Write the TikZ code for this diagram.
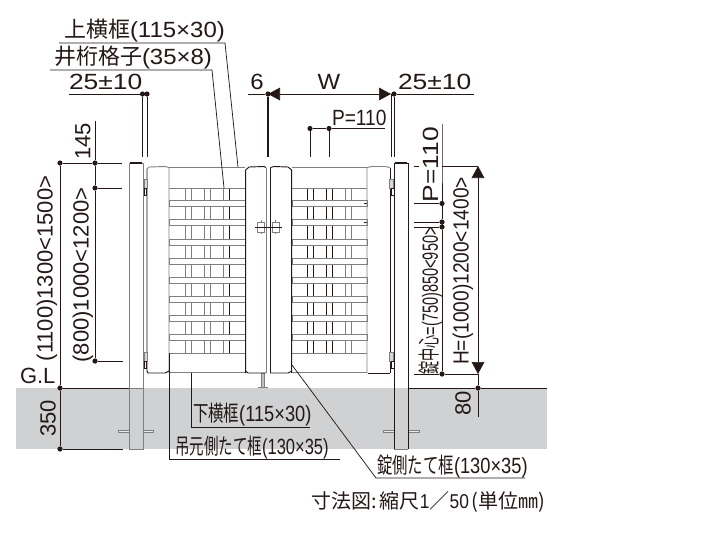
\documentclass[tikz,border=0pt]{standalone}
\usepackage{fontspec}
\setmainfont{Liberation Sans}
\usetikzlibrary{arrows.meta}
\newfontfamily\gapLat[FakeStretch=1.2]{Liberation Sans}
\newfontfamily\wideLat[FakeStretch=1.09]{Liberation Sans}
\newfontfamily\slimLat[FakeStretch=0.87]{Liberation Sans}
\newfontfamily\railLat[FakeStretch=0.83]{Liberation Sans}
\newfontfamily\thinLat[FakeStretch=0.75]{Liberation Sans}
\newfontfamily\tightLat[FakeStretch=0.66]{Liberation Sans}
\newfontfamily\wideJp{Noto Sans CJK JP}
\newfontfamily\railJp[FakeStretch=0.7]{Noto Sans CJK JP}
\newfontfamily\thinJp[FakeStretch=0.66]{Noto Sans CJK JP}
\newfontfamily\tightJp[FakeStretch=0.6]{Noto Sans CJK JP}
\definecolor{ink}{HTML}{231815}
\definecolor{soil}{HTML}{D0D1D3}
\definecolor{frame}{HTML}{7F7F7F}
\tikzset{
  lbl/.style={inner sep=0pt, outer sep=0pt, text=ink, font=\fontsize{16.5}{18}\selectfont},
  dot/.style={circle, fill=ink, inner sep=0pt, minimum size=3.9pt},
  dim/.style={ink, line width=0.55pt},
  blk/.style={ink, line width=0.7pt},
  gry/.style={frame, line width=0.7pt},
  barbox/.style={frame, fill=white, line width=0.7pt},
  tri/.style={{Triangle[length=9pt, width=9.5pt]}-{Triangle[length=9pt, width=9.5pt]}}
}
\begin{document}
\begin{tikzpicture}[x=0.75pt, y=-0.75pt, line join=miter]
    \useasboundingbox (0, 0) rectangle (720, 540);

    % Ground
    \fill[soil] (16, 388) rectangle (547, 449);
    \draw[gry, fill=soil!50] (118, 430) rectangle (153, 432.5);
    \draw[gry, fill=soil!50] (383, 430) rectangle (419, 432.5);

    % Posts
    \draw[gry, fill=white] (129, 163) rectangle (143, 388);
    \draw[gry, fill=soil] (129, 388) rectangle (143, 449);
    \draw[blk, fill=white] (394, 163) rectangle (408, 388);
    \fill[soil] (394, 388) rectangle (408, 449);
    \draw[blk] (394, 388) -- (394, 449);
    \draw[blk] (408, 388) -- (408, 449);
    \draw[gry] (394, 449) -- (408, 449);
    \draw[ink, line width=1.3pt] (130, 163) -- (142, 163);
    \draw[ink, line width=1.3pt] (395, 163) -- (407, 163);

    % Stop
    \draw[gry, fill=frame!50] (261.5, 373) rectangle (264, 387);
    \draw[gry] (258, 387.5) -- (268, 387.5);

    % Lattice verticals
    \draw[gry] (185, 188) -- (185, 353);
    \draw[gry] (191, 188) -- (191, 353);
    \draw[gry] (204, 188) -- (204, 353);
    \draw[gry] (210, 188) -- (210, 353);
    \draw[gry] (223, 188) -- (223, 353);
    \draw[blk] (229, 188) -- (229, 353);
    \draw[blk] (307.5, 188) -- (307.5, 353);
    \draw[blk] (313, 188) -- (313, 353);
    \draw[blk] (326.5, 188) -- (326.5, 353);
    \draw[blk] (332.5, 188) -- (332.5, 353);
    \draw[gry] (345.5, 188) -- (345.5, 353);
    \draw[gry] (351.5, 188) -- (351.5, 353);

    % Lattice bars
    \draw[gry] (169, 188) -- (245, 188);
    \draw[gry] (292, 188) -- (367, 188);
    \draw[gry] (169, 353) -- (245, 353);
    \draw[gry] (292, 353) -- (367, 353);
    \draw[barbox] (169, 200.5) rectangle (245, 206.5);
    \draw[barbox] (169, 219.5) rectangle (245, 225.5);
    \draw[barbox] (169, 239) rectangle (245, 245);
    \draw[barbox] (169, 258) rectangle (245, 264);
    \draw[barbox] (169, 277) rectangle (245, 283);
    \draw[barbox] (169, 296) rectangle (245, 302);
    \draw[barbox] (169, 315) rectangle (245, 321);
    \draw[barbox] (169, 334) rectangle (245, 340);
    \draw[barbox] (292, 200.5) rectangle (367, 206.5);
    \draw[barbox] (292, 219.5) rectangle (367, 225.5);
    \draw[barbox] (292, 239) rectangle (367, 245);
    \draw[barbox] (292, 258) rectangle (367, 264);
    \draw[barbox] (292, 277) rectangle (367, 283);
    \draw[barbox] (292, 296) rectangle (367, 302);
    \draw[barbox] (292, 315) rectangle (367, 321);
    \draw[barbox] (292, 334) rectangle (367, 340);
    \draw[blk] (364, 203) -- (367, 203);
    \draw[blk] (364, 222) -- (367, 222);

    % Gate frame
    \draw[gry] (169, 167.5) -- (245, 167.5);
    \draw[gry] (292, 167.5) -- (367, 167.5);
    \draw[gry] (169, 372.5) -- (245, 372.5);
    \draw[gry] (292, 372.5) -- (367, 372.5);
    \draw[gry] (147, 169) -- (149, 167) -- (165, 166.5) -- (169, 167.5) -- (169, 373);
    \draw[gry] (367, 373) -- (367, 167.5) -- (372, 166.5) -- (385, 166.5) -- (390, 167.5);
    \draw[blk] (147, 169) -- (147, 371) -- (148, 373) -- (165, 373) -- (169, 371);
    \draw[blk] (368, 373) -- (390, 373);
    \draw[blk] (390.5, 167.5) -- (390.5, 373);

    % Latch stiles
    \draw[blk] (245.7, 373) -- (245.7, 170) -- (249, 167) -- (264, 166.5) -- (266, 167.5);
    \draw[blk] (245.7, 371) -- (248, 373) -- (266, 373);
    \draw[gry] (266, 167.5) -- (266, 373);
    \draw[blk] (270.5, 167.5) -- (270.5, 373) -- (288, 373) -- (291.7, 371);
    \draw[blk] (270.5, 167.5) -- (274, 166.5) -- (288, 167) -- (291.7, 170) -- (291.7, 373);

    % Latches
    \draw[gry] (257.7, 222) rectangle (264.3, 232);
    \draw[gry] (272, 222) rectangle (279, 232);
    \draw[gry] (261, 220) -- (261, 222);
    \draw[gry] (261, 232) -- (261, 234);
    \draw[gry] (275.5, 220) -- (275.5, 222);
    \draw[gry] (275.5, 232) -- (275.5, 234);
    \draw[blk] (255, 227) -- (282, 227);

    % Hinges
    \draw[gry, fill=frame!30] (144, 179) rectangle (147, 188);
    \draw[blk] (144, 188) rectangle (146, 195);
    \draw[gry, fill=frame!30] (144, 352) rectangle (147, 361);
    \draw[blk] (144, 361) rectangle (146, 368);
    \draw[gry, fill=frame!30] (389.5, 179) rectangle (393, 188);
    \draw[blk] (391, 188) rectangle (394, 195);
    \draw[gry, fill=frame!30] (389.5, 352) rectangle (393, 361);
    \draw[blk] (391, 361) rectangle (394, 368);

    % Leaders, top
    \node[lbl, anchor=west] (topRail) at (64, 31) {\wideJp 上横框\wideLat(115×30)};
    \node[lbl, anchor=west] (lattice) at (54, 58) {\wideJp 井桁格子\wideLat(35×8)};
    \coordinate (topRailA) at (59, 43);
    \coordinate (topRailB) at (225, 43);
    \coordinate (topRailC) at (238, 167);
    \draw[dim] (topRailA) -- (topRailB) -- (topRailC);
    \coordinate (latticeA) at (50, 70);
    \coordinate (latticeB) at (212, 70);
    \coordinate (latticeC) at (224, 188);
    \draw[dim] (latticeA) -- (latticeB) -- (latticeC);

    % Leaders, bottom
    \node[lbl, anchor=west] (botRail) at (193, 415) {\railJp 下横框\railLat(115×30)};
    \node[lbl, anchor=west] (hingeSt) at (175, 448) {\thinJp 吊元側たて框\thinLat(130×35)};
    \node[lbl, anchor=west] (latchSt) at (377, 467) {\railJp 錠側たて框\railLat(130×35)};
    \coordinate (botRailA) at (191, 373);
    \coordinate (botRailB) at (191, 427);
    \coordinate (botRailC) at (310, 427);
    \draw[dim] (botRailA) -- (botRailB) -- (botRailC);
    \coordinate (hingeStA) at (169, 353);
    \coordinate (hingeStB) at (169, 459);
    \coordinate (hingeStC) at (340, 459);
    \draw[dim] (hingeStA) -- (hingeStB) -- (hingeStC);
    \coordinate (latchStA) at (292, 365);
    \coordinate (latchStB) at (376, 478);
    \coordinate (latchStC) at (525, 478);
    \draw[dim] (latchStA) -- (latchStB) -- (latchStC);

    % Top dimensions
    \node[lbl, anchor=west] (gapL) at (69, 82) {\gapLat 25±10};
    \node[dot] (gapLa) at (142.5, 94) {};
    \node[dot] (gapLb) at (147, 94) {};
    \coordinate (gapLs) at (69, 94);
    \coordinate (gapLc) at (142.5, 157);
    \coordinate (gapLd) at (147, 157);
    \draw[dim] (gapLs) -- (gapLb);
    \draw[blk] (gapLa) -- (gapLc);
    \draw[blk] (gapLb) -- (gapLd);

    \node[lbl, anchor=center] (six) at (257, 82) {\wideLat 6};
    \node[lbl, anchor=center] (wid) at (329, 82) {\wideLat W};
    \node[lbl, anchor=west] (gapR) at (398, 82) {\gapLat 25±10};
    \node[dot] (widA) at (268, 94) {};
    \node[dot] (widB) at (394, 94) {};
    \coordinate (widAs) at (248, 94);
    \coordinate (widAe) at (268, 157);
    \coordinate (widTip) at (391, 94);
    \coordinate (widBe) at (394, 157);
    \coordinate (widCe) at (391, 157);
    \coordinate (gapRe) at (474, 94);
    \draw[dim] (widAs) -- (widA);
    \draw[ink, line width=1.3pt] (widA) -- (widAe);
    \draw[dim, tri] (widA.center) -- (widTip);
    \draw[blk] (widTip) -- (widCe);
    \draw[blk] (widB) -- (widBe);
    \draw[dim] (widB) -- (gapRe);

    \node[lbl, anchor=west] (pitchT) at (332, 118) {\slimLat P=110};
    \node[dot] (pitchA) at (310, 128.5) {};
    \node[dot] (pitchB) at (329, 128.5) {};
    \coordinate (pitchAe) at (310, 157);
    \coordinate (pitchBe) at (329, 157);
    \coordinate (pitchE) at (385, 128.5);
    \draw[dim] (pitchA) -- (pitchB) -- (pitchE);
    \draw[blk] (pitchA) -- (pitchAe);
    \draw[blk] (pitchB) -- (pitchBe);

    % Left dimensions
    \node[lbl, rotate=90] (d145) at (83, 141.5) {145};
    \node[lbl, rotate=90] (dOuter) at (47, 268.5) {(1100)1300<1500>};
    \node[lbl, rotate=90] (dInner) at (83, 275) {(800)1000<1200>};
    \node[lbl, rotate=90] (d350) at (48, 418.5) {350};
    \node[lbl, anchor=west] (gl) at (20, 376) {G.L};
    \node[dot] (outerT) at (60, 163) {};
    \node[dot] (outerB) at (60, 388) {};
    \node[dot] (footB) at (60, 449) {};
    \node[dot] (innerT) at (95, 163) {};
    \node[dot] (innerU) at (95, 188) {};
    \node[dot] (innerB) at (95, 361) {};
    \coordinate (d145e) at (95, 121);
    \coordinate (outerTe) at (122, 163);
    \coordinate (innerUe) at (122, 188);
    \coordinate (innerBe) at (123, 361);
    \coordinate (outerBe) at (129, 388);
    \coordinate (footBe) at (123, 449);
    \draw[dim] (d145e) -- (innerT);
    \draw[dim] (outerT) -- (innerT) -- (outerTe);
    \draw[dim] (innerT) -- (innerU) -- (innerB);
    \draw[dim] (innerU) -- (innerUe);
    \draw[dim] (innerB) -- (innerBe);
    \draw[dim] (outerT) -- (outerB) -- (footB);
    \draw[dim] (outerB) -- (outerBe);
    \draw[dim] (footB) -- (footBe);

    % Right dimensions
    \node[lbl, rotate=90] (pitchV) at (431, 164.5) {\gapLat P=110};
    \node[lbl, rotate=90] (dLatch) at (431, 301) {\tightJp 錠中心\tightLat=(750)850<950>};
    \node[lbl, rotate=90] (dHeight) at (463, 271) {\slimLat H=(1000)1200<1400>};
    \node[lbl, rotate=90] (d80) at (463, 403) {80};
    \node[dot] (pA) at (442, 203.5) {};
    \node[dot] (pB) at (442, 222) {};
    \node[dot] (pC) at (442, 227) {};
    \node[dot] (pD) at (442, 374) {};
    \node[dot] (glR) at (478, 388) {};
    \coordinate (pTop) at (442, 124);
    \coordinate (pH) at (442, 166);
    \coordinate (hTop) at (478, 166);
    \coordinate (hBot) at (478, 374);
    \coordinate (hEnd) at (478, 417);
    \coordinate (pAe) at (414, 203.5);
    \coordinate (pBe) at (414, 222);
    \coordinate (pCe) at (414, 227);
    \coordinate (pDe) at (414, 374);
    \coordinate (tickA) at (414, 166);
    \coordinate (tickB) at (419, 166);
    \coordinate (glE) at (547, 388);
    \coordinate (glS) at (408, 388);
    \draw[dim] (pTop) -- (pH) -- (pA) -- (pB) -- (pC) -- (pD);
    \draw[dim] (pH) -- (hTop);
    \draw[dim] (tickA) -- (tickB);
    \draw[dim] (pAe) -- (pA);
    \draw[dim] (pBe) -- (pB);
    \draw[dim] (pCe) -- (pC);
    \draw[dim] (pDe) -- (pD) -- (hBot);
    \draw[dim, tri] (hTop) -- (hBot);
    \draw[dim] (hBot) -- (glR) -- (hEnd);
    \draw[dim] (glS) -- (glR) -- (glE);

    % Note
    \node[lbl, anchor=west, font=\fontsize{15}{16}\selectfont] (note) at (311, 502) {\wideJp 寸法図:\hspace{2pt}縮尺\slimLat\hspace{0.5pt}1\wideJp ／\slimLat 50\hspace{2pt}\wideJp(単位㎜)};
\end{tikzpicture}
\end{document}
